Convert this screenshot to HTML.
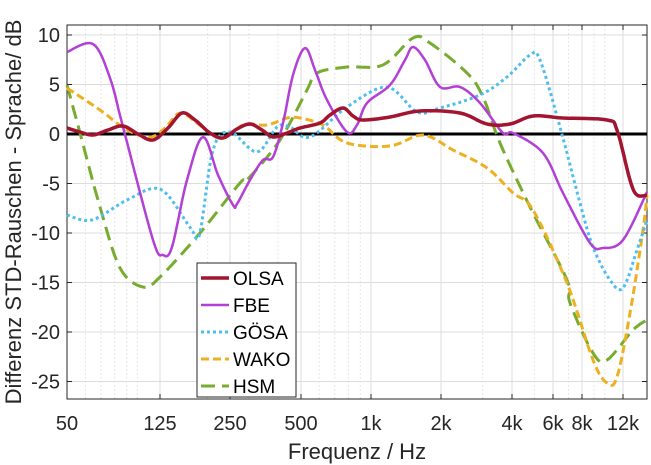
<!DOCTYPE html>
<html><head><meta charset="utf-8"><style>body{margin:0;background:#fff}svg{display:block}text{font-family:"Liberation Sans",sans-serif;fill:#262626}</style></head><body>
<svg width="651" height="465" viewBox="0 0 651 465" xmlns="http://www.w3.org/2000/svg">
<rect x="0" y="0" width="651" height="465" fill="#fff"/>
<g stroke="#e0e0e0" stroke-width="1" stroke-dasharray="1.5,2.5">
<path d="M85.5 25V399M101 25V399M114.7 25V399M126.7 25V399M137.4 25V399M207.7 25V399M248.9 25V399M278 25V399M319.2 25V399M334.8 25V399M348.4 25V399M360.3 25V399M482.6 25V399M534.4 25V399M568.5 25V399M594 25V399M604.8 25V399"/>
</g>
<g stroke="#dcdcdc" stroke-width="1">
<path d="M160 25V399M230 25V399M301 25V399M371 25V399M441 25V399M512 25V399M553 25V399M582 25V399M623 25V399"/>
<path d="M67 35H647M67 84.5H647M67 183.5H647M67 233H647M67 282.5H647M67 332H647M67 381.5H647"/>
</g>
<rect x="67" y="25" width="580" height="374" fill="none" stroke="#262626" stroke-width="1"/>
<g stroke="#262626" stroke-width="1">
<path d="M160 399v-5M230 399v-5M301 399v-5M371 399v-5M441 399v-5M512 399v-5M553 399v-5M582 399v-5M623 399v-5M160 25v5M230 25v5M301 25v5M371 25v5M441 25v5M512 25v5M553 25v5M582 25v5M623 25v5"/>
<path d="M67 35h5M67 84.5h5M67 134h5M67 183.5h5M67 233h5M67 282.5h5M67 332h5M67 381.5h5M647 35h-5M647 84.5h-5M647 183.5h-5M647 233h-5M647 282.5h-5M647 332h-5M647 381.5h-5"/>
</g>
<line x1="67" y1="134" x2="647" y2="134" stroke="#000" stroke-width="3"/>
<g fill="none" stroke-linejoin="round" id="curves">
<polyline stroke="#77AC30" stroke-width="3" stroke-dasharray="14,7" points="67,85 80,133 100,207 120,268 143,287 160,277 200,233 240,183 247,180 280,140 307,90 317,73 347,67 383,65 413,38 430,43 467,73 483,97 500,143 530,207 567,280 570,303 593,353 607,360 633,330 647,320"/>
<polyline stroke="#EDB120" stroke-width="3" stroke-dasharray="8,4" points="67,88 100,110 127,130 150,137 165,128 180,113 197,123 210,133 223,138 235,130 247,124 267,125 287,118 300,118 323,125 347,143 390,146 423,135 453,150 487,168 513,193 533,210 567,283 593,360 607,383 617,377 630,313 643,230 647,195"/>
<polyline stroke="#4DBEEE" stroke-width="3" stroke-dasharray="3,3" points="67,215 92,220 127,200 160,189 187,223 193,232 200,233 213,150 230,132 257,152 277,127 290,127 310,137 347,107 387,87 417,112 440,108 480,95 507,77 530,55 540,60 560,127 580,203 593,247 610,280 623,288 637,250 647,220"/>
<polyline stroke="#B23FD6" stroke-width="2.5" points="67,52 93,44 110,78 123,127 153,240 163,255 172,247 187,180 203,137 218,175 233,205 237,204 250,180 263,160 273,157 283,123 293,75 305,48 315,70 327,100 347,132 357,125 367,103 390,85 405,60 413,47 425,60 440,87 460,87 480,103 503,133 513,133 543,153 563,193 590,243 603,248 623,240 647,192"/>
<polyline stroke="#A2142F" stroke-width="3.5" points="67,128 80,132 93,135 108,130 123,126 138,134 153,140 168,128 182,113 195,120 210,133 223,138 237,129 250,124 262,130 273,137 287,133 300,128 320,123 330,115 343,108 353,116 363,120 390,117 420,111 460,113 487,124 510,124 533,116 563,118 607,120 617,130 630,180 637,195 647,195"/>
</g>
<g font-size="20" text-anchor="end">
<text x="60" y="42">10</text><text x="60" y="91.5">5</text><text x="60" y="141">0</text><text x="60" y="190.5">-5</text><text x="60" y="240">-10</text><text x="60" y="289.5">-15</text><text x="60" y="339">-20</text><text x="60" y="388.5">-25</text>
</g>
<g font-size="20" text-anchor="middle">
<text x="67" y="430">50</text><text x="160" y="430">125</text><text x="230" y="430">250</text><text x="301" y="430">500</text><text x="371" y="430">1k</text><text x="441" y="430">2k</text><text x="512" y="430">4k</text><text x="553" y="430">6k</text><text x="582" y="430">8k</text><text x="623" y="430">12k</text>
<text x="357" y="459" font-size="22">Frequenz / Hz</text>
<text transform="translate(21,212) rotate(-90)" font-size="22">Differenz STD-Rauschen - Sprache/ dB</text>
</g>
<rect x="197" y="263" width="99" height="134" fill="#fff" stroke="#262626" stroke-width="1"/>
<g stroke-width="3" fill="none">
<line x1="201" y1="278" x2="229" y2="278" stroke="#A2142F" stroke-width="3.5"/>
<line x1="201" y1="305" x2="229" y2="305" stroke="#B23FD6" stroke-width="2.5"/>
<line x1="201" y1="332" x2="229" y2="332" stroke="#4DBEEE" stroke-dasharray="3,3"/>
<line x1="201" y1="359" x2="229" y2="359" stroke="#EDB120" stroke-dasharray="8,4"/>
<line x1="201" y1="386" x2="229" y2="386" stroke="#77AC30" stroke-dasharray="14,7"/>
</g>
<g font-size="19">
<text x="233" y="285" style="fill:#000">OLSA</text><text x="233" y="312" style="fill:#000">FBE</text><text x="233" y="339" style="fill:#000">GÖSA</text><text x="233" y="366" style="fill:#000">WAKO</text><text x="233" y="393" style="fill:#000">HSM</text>
</g>
</svg>
<script>
document.querySelectorAll('#curves polyline').forEach(function(pl){
  var p=pl.getAttribute('points').trim().split(/\s+/).map(function(s){return s.split(',').map(Number);});
  var out=[];
  for(var i=0;i<p.length-1;i++){
    var p0=p[Math.max(0,i-1)],p1=p[i],p2=p[i+1],p3=p[Math.min(p.length-1,i+2)];
    for(var k=0;k<8;k++){
      var t=k/8,t2=t*t,t3=t2*t;
      var f=function(a,b,c,d){return 0.5*((2*b)+(-a+c)*t+(2*a-5*b+4*c-d)*t2+(-a+3*b-3*c+d)*t3);};
      out.push(f(p0[0],p1[0],p2[0],p3[0]).toFixed(1)+','+f(p0[1],p1[1],p2[1],p3[1]).toFixed(1));
    }
  }
  out.push(p[p.length-1].join(','));
  pl.setAttribute('points',out.join(' '));
});
</script>
</body></html>
